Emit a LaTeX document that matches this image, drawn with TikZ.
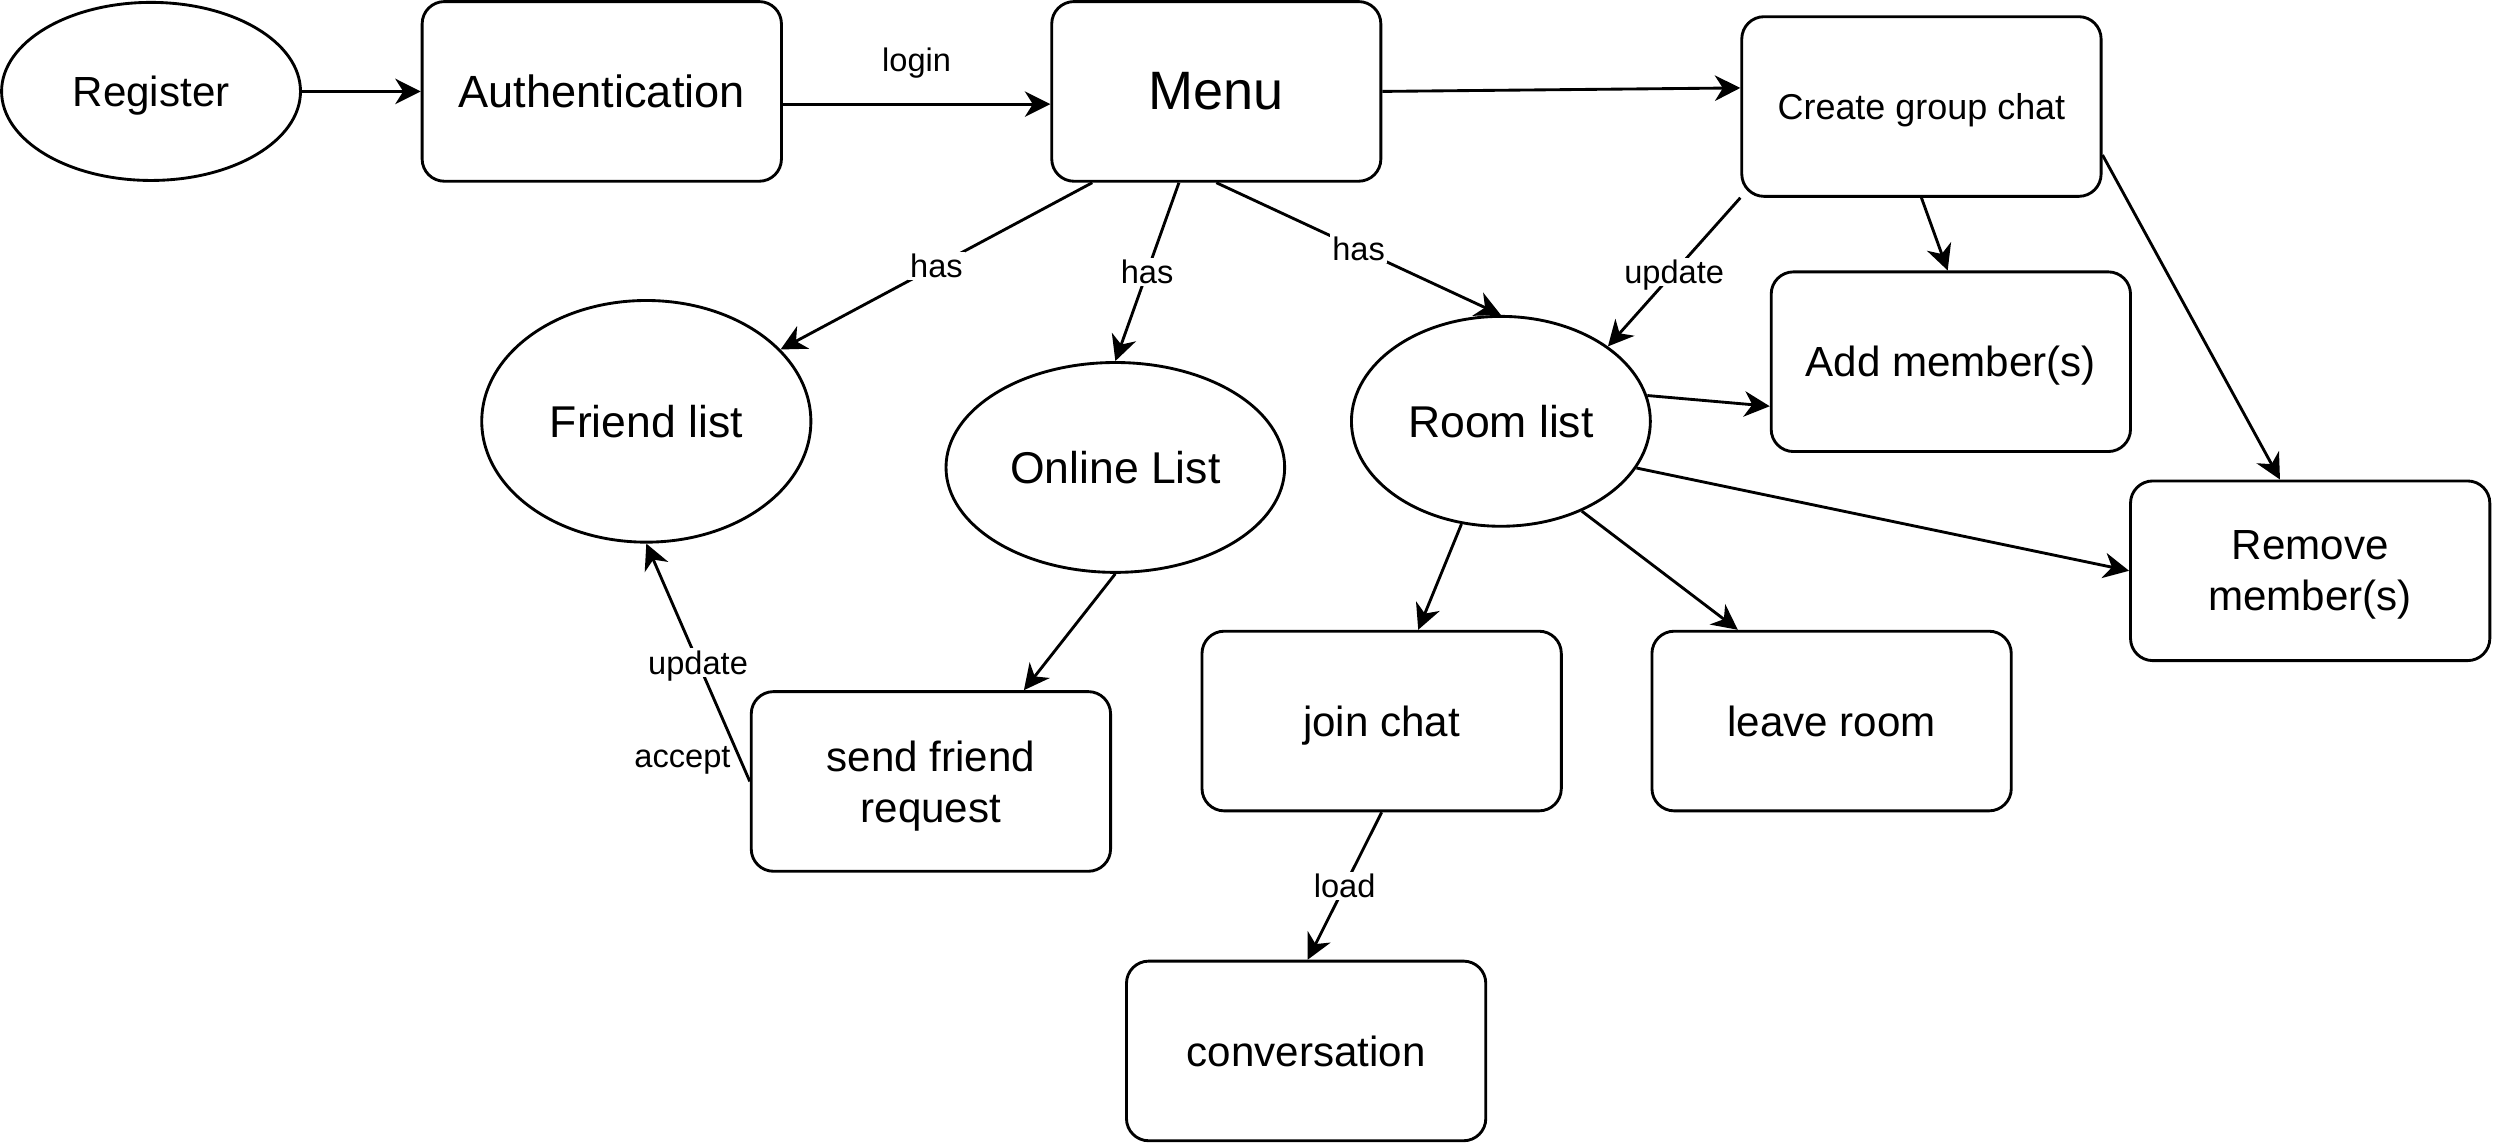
\documentclass[tikz,border=0pt]{standalone}
\usepackage{fontspec}
\setmainfont{Liberation Sans}
\usetikzlibrary{shapes.geometric,arrows.meta}
\newcommand\nodesc[1]{\raisebox{0pt}[\height][0pt]{#1}}
\begin{document}
\begin{tikzpicture}[x=1pt,y=-1pt,
  box/.style={draw, line width=1.8pt, rounded corners=14pt, minimum width=226pt, minimum height=113pt, inner sep=0pt, align=center, font=\fontsize{26.5}{32}\selectfont},
  oval/.style={draw, ellipse, line width=1.8pt, inner sep=0pt, font=\fontsize{28}{33}\selectfont},
  conn/.style={line width=1.8pt, -{Stealth[length=16pt,width=16pt,inset=5pt]}},
  lbl/.style={fill=white, inner sep=1.5pt, font=\fontsize{20.5}{24}\selectfont}
]
\useasboundingbox (0,0) rectangle (1568,719);

\node[oval, minimum width=188pt, minimum height=112pt, font=\fontsize{26.5}{32}\selectfont] (reg) at (95,57.5) {\nodesc{Register}};
\node[box, font=\fontsize{28.4}{34}\selectfont] (auth) at (378.5,57.5) {Authentication};
\node[box, minimum width=207pt, font=\fontsize{34}{40}\selectfont] (menu) at (765,57.5) {Menu};
\node[box, font=\fontsize{22.6}{27}\selectfont] (create) at (1208.5,67) {\nodesc{Create group chat}};
\node[oval, minimum width=207pt, minimum height=152pt] (friend) at (406.5,265) {Friend list};
\node[oval, minimum width=213pt, minimum height=132pt] (online) at (701.5,294) {Online List};
\node[oval, minimum width=188pt, minimum height=132pt] (room) at (944,265) {Room list};
\node[box, font=\fontsize{26.5}{32}\selectfont] (add) at (1227,227.5) {\nodesc{Add member(s)}};
\node[box] (remove) at (1453,359) {Remove\\\nodesc{member(s)}};
\node[box] (join) at (869,453.5) {\nodesc{join chat}};
\node[box] (leave) at (1152,453.5) {leave room};
\node[box] (send) at (585.5,491.5) {send friend\\\nodesc{request}};
\node[box] (conv) at (821.5,661) {conversation};

\draw[conn] (reg) -- (auth);
\draw[conn] ([yshift=-8pt]auth.east) -- ([yshift=-8pt]auth.east -| menu.west)
  node[lbl, midway, yshift=28pt] {\nodesc{login}};
\draw[conn] (menu.east) -- ([yshift=11.7pt]create.west);
\draw[conn] ([xshift=-78pt]menu.south) -- (friend) node[lbl, pos=0.5] {has};
\draw[conn] ([xshift=-23.5pt]menu.south) -- (online.north) node[lbl, pos=0.5] {has};
\draw[conn] (menu.south) -- (room.north) node[lbl, pos=0.5] {has};
\draw[conn] (create.south west) -- (room.35) node[lbl, pos=0.5] {\nodesc{update}};
\draw[conn] (create.south) -- ([xshift=-2pt]add.north);
\draw[conn] ([yshift=-30.5pt]create.east) -- ([xshift=-19pt]remove.north);
\draw[conn] (room.10) -- ([yshift=-28pt]add.west);
\draw[conn] (room.-19) -- (remove.west);
\draw[conn] (room.-111) -- ([xshift=23pt]join.north);
\draw[conn] (room.-48) -- ([xshift=-59pt]leave.north);
\draw[conn] (online.south) -- ([xshift=58.5pt]send.north);
\draw[conn] (send.west) -- (friend.south)
  node[lbl, pos=0.5] {\nodesc{update}}
  node[lbl, fill=none, pos=0.104, anchor=east, xshift=-3pt] {\nodesc{accept}};
\draw[conn] (join.south) -- ([xshift=1pt]conv.north) node[lbl, midway] {load};
\end{tikzpicture}
\end{document}
